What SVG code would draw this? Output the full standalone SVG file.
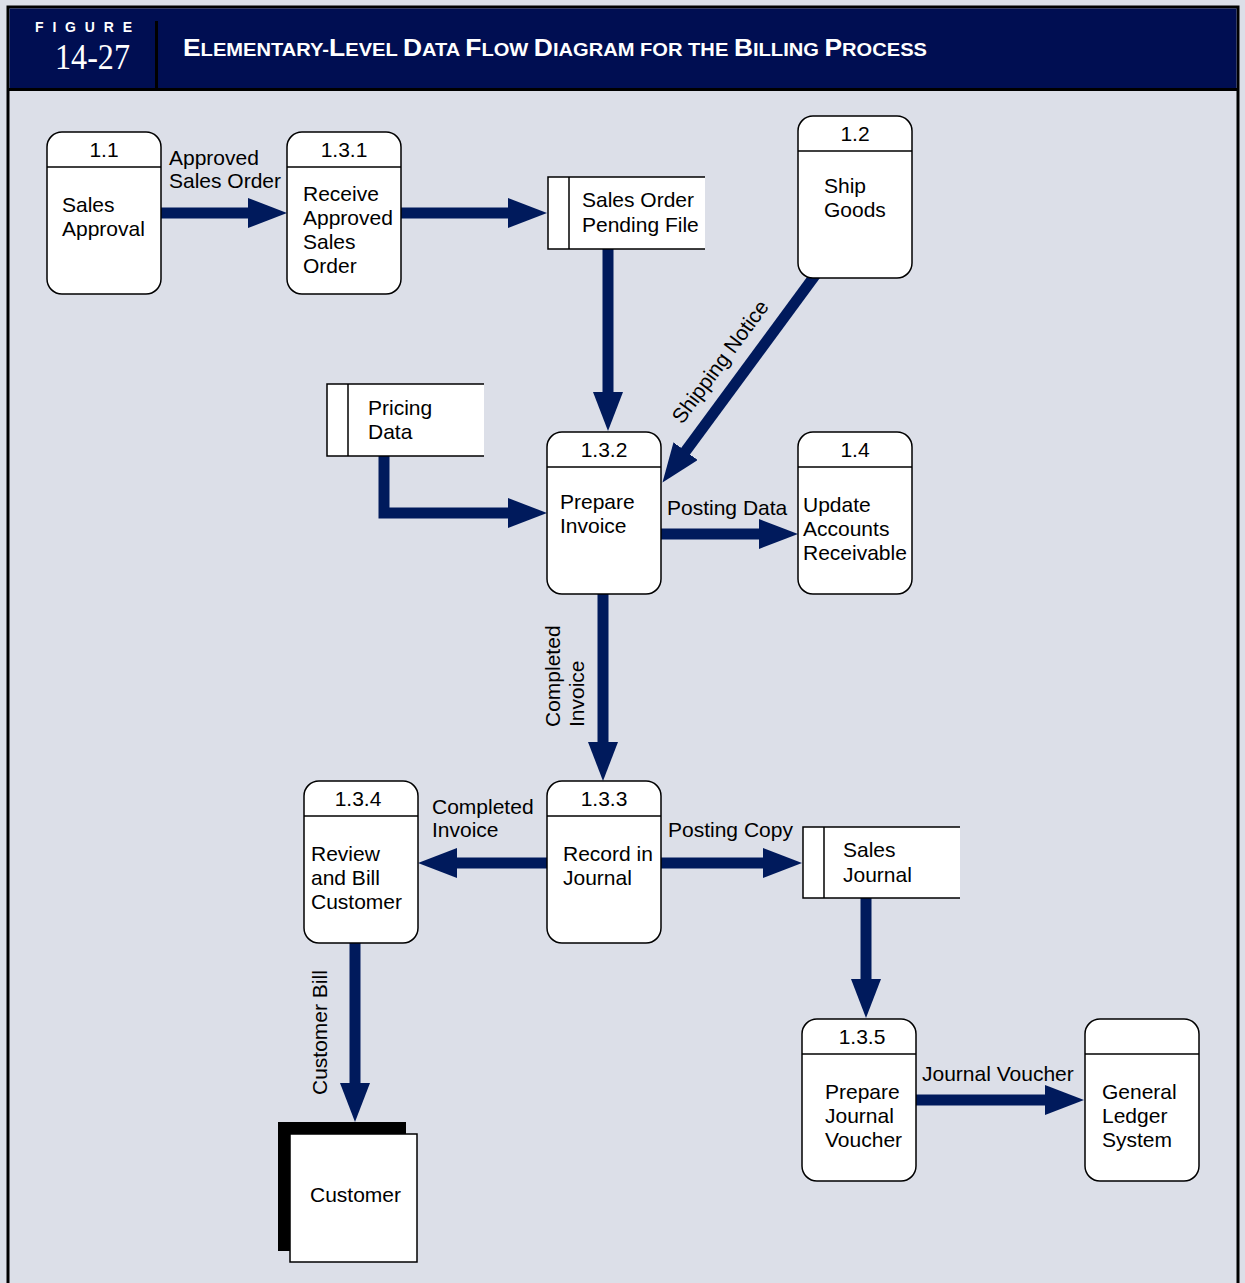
<svg xmlns="http://www.w3.org/2000/svg" width="1245" height="1283" viewBox="0 0 1245 1283">
<defs>
<style>
.bg{fill:#dcdfe8}
.node{fill:#fff;stroke:#000;stroke-width:1.5}
.sep{stroke:#000;stroke-width:1.5;fill:none}
.t{font-family:"Liberation Sans",Arial,Helvetica,sans-serif;font-size:21px;fill:#000}
.c{text-anchor:middle}
.flow{fill:none;stroke:#001a5c;stroke-width:11;stroke-linejoin:miter;stroke-linecap:butt}
.hdr{font-family:"Liberation Sans",Arial,sans-serif;font-weight:bold;fill:#fff}
</style>
<marker id="ah" markerUnits="userSpaceOnUse" markerWidth="40" markerHeight="30" viewBox="0 0 40 30" refX="1" refY="15" orient="auto">
<path d="M0,0 L39,15 L0,30 z" fill="#001a5c"/>
</marker>
</defs>
<rect class="bg" x="0" y="0" width="1245" height="1283"/>
<g id="frame">
<rect x="8" y="7" width="1230" height="1290" fill="#dcdfe8" stroke="#000" stroke-width="3"/>
<rect x="9.5" y="8.5" width="1227" height="81" fill="#000e52"/>
<line x1="8" y1="89.5" x2="1238" y2="89.5" stroke="#000" stroke-width="3"/>
<line x1="156.5" y1="21" x2="156.5" y2="89" stroke="#000" stroke-width="3"/>
<text class="hdr" x="35" y="32" font-size="14" textLength="97" lengthAdjust="spacing">FIGURE</text>
<text x="55" y="69" font-family="'Liberation Serif','Times New Roman',serif" font-size="36" fill="#fff" textLength="75" lengthAdjust="spacingAndGlyphs">14-27</text>
<text class="hdr" x="183" y="56" textLength="744" lengthAdjust="spacingAndGlyphs"><tspan font-size="23">E</tspan><tspan font-size="17.5">LEMENTARY-</tspan><tspan font-size="23">L</tspan><tspan font-size="17.5">EVEL </tspan><tspan font-size="23">D</tspan><tspan font-size="17.5">ATA </tspan><tspan font-size="23">F</tspan><tspan font-size="17.5">LOW </tspan><tspan font-size="23">D</tspan><tspan font-size="17.5">IAGRAM FOR THE </tspan><tspan font-size="23">B</tspan><tspan font-size="17.5">ILLING </tspan><tspan font-size="23">P</tspan><tspan font-size="17.5">ROCESS</tspan></text>
</g>
<g id="connectors">
<path class="flow" d="M161,213 H249" marker-end="url(#ah)"/>
<path class="flow" d="M401,213 H509" marker-end="url(#ah)"/>
<path class="flow" d="M608,249 V393" marker-end="url(#ah)"/>
<path class="flow" d="M819,270 L685,452" marker-end="url(#ah)"/>
<path class="flow" d="M384,455 V513 H509" marker-end="url(#ah)"/>
<path class="flow" d="M661,534 H760" marker-end="url(#ah)"/>
<path class="flow" d="M603,594 V743" marker-end="url(#ah)"/>
<path class="flow" d="M547,863 H456" marker-end="url(#ah)"/>
<path class="flow" d="M661,863 H764" marker-end="url(#ah)"/>
<path class="flow" d="M866,898 V980" marker-end="url(#ah)"/>
<path class="flow" d="M355,943 V1084" marker-end="url(#ah)"/>
<path class="flow" d="M916,1100 H1046" marker-end="url(#ah)"/>
<text class="t" x="169" y="165">Approved</text>
<text class="t" x="169" y="188">Sales Order</text>
<text class="t c" transform="translate(726,366) rotate(-53.5)">Shipping Notice</text>
<text class="t" x="667" y="515">Posting Data</text>
<text class="t" transform="translate(560,727) rotate(-90)">Completed</text>
<text class="t" transform="translate(584,727) rotate(-90)">Invoice</text>
<text class="t" x="432" y="814">Completed</text>
<text class="t" x="432" y="837">Invoice</text>
<text class="t" x="668" y="837">Posting Copy</text>
<text class="t" transform="translate(327,1095) rotate(-90)">Customer Bill</text>
<text class="t" x="922" y="1081">Journal Voucher</text>
</g>
<g id="n1-1">
<rect class="node" x="47" y="132" width="114" height="162" rx="15"/>
<line class="sep" x1="47" y1="167" x2="161" y2="167"/>
<text class="t c" x="104" y="157">1.1</text>
<text class="t" x="62" y="212">Sales</text>
<text class="t" x="62" y="236">Approval</text>
</g>
<g id="n1-3-1">
<rect class="node" x="287" y="132" width="114" height="162" rx="15"/>
<line class="sep" x1="287" y1="167" x2="401" y2="167"/>
<text class="t c" x="344" y="157">1.3.1</text>
<text class="t" x="303" y="201">Receive</text>
<text class="t" x="303" y="225">Approved</text>
<text class="t" x="303" y="249">Sales</text>
<text class="t" x="303" y="273">Order</text>
</g>
<g id="ds-pending">
<path class="node" d="M705,177 H548 V249 H705"/>
<line class="sep" x1="569" y1="177" x2="569" y2="249"/>
<text class="t" x="582" y="207">Sales Order</text>
<text class="t" x="582" y="232">Pending File</text>
</g>
<g id="n1-2">
<rect class="node" x="798" y="116" width="114" height="162" rx="15"/>
<line class="sep" x1="798" y1="151" x2="912" y2="151"/>
<text class="t c" x="855" y="141">1.2</text>
<text class="t" x="824" y="193">Ship</text>
<text class="t" x="824" y="217">Goods</text>
</g>
<g id="ds-pricing">
<path class="node" d="M484,384 H327 V456 H484"/>
<line class="sep" x1="348" y1="384" x2="348" y2="456"/>
<text class="t" x="368" y="415">Pricing</text>
<text class="t" x="368" y="439">Data</text>
</g>
<g id="n1-3-2">
<rect class="node" x="547" y="432" width="114" height="162" rx="15"/>
<line class="sep" x1="547" y1="467" x2="661" y2="467"/>
<text class="t c" x="604" y="457">1.3.2</text>
<text class="t" x="560" y="509">Prepare</text>
<text class="t" x="560" y="533">Invoice</text>
</g>
<g id="n1-4">
<rect class="node" x="798" y="432" width="114" height="162" rx="15"/>
<line class="sep" x1="798" y1="467" x2="912" y2="467"/>
<text class="t c" x="855" y="457">1.4</text>
<text class="t" x="803" y="512">Update</text>
<text class="t" x="803" y="536">Accounts</text>
<text class="t" x="803" y="560">Receivable</text>
</g>
<g id="n1-3-4">
<rect class="node" x="304" y="781" width="114" height="162" rx="15"/>
<line class="sep" x1="304" y1="816" x2="418" y2="816"/>
<text class="t c" x="358" y="806">1.3.4</text>
<text class="t" x="311" y="861">Review</text>
<text class="t" x="311" y="885">and Bill</text>
<text class="t" x="311" y="909">Customer</text>
</g>
<g id="n1-3-3">
<rect class="node" x="547" y="781" width="114" height="162" rx="15"/>
<line class="sep" x1="547" y1="816" x2="661" y2="816"/>
<text class="t c" x="604" y="806">1.3.3</text>
<text class="t" x="563" y="861">Record in</text>
<text class="t" x="563" y="885">Journal</text>
</g>
<g id="ds-journal">
<path class="node" d="M960,827 H803 V898 H960"/>
<line class="sep" x1="824" y1="827" x2="824" y2="898"/>
<text class="t" x="843" y="857">Sales</text>
<text class="t" x="843" y="882">Journal</text>
</g>
<g id="n1-3-5">
<rect class="node" x="802" y="1019" width="114" height="162" rx="15"/>
<line class="sep" x1="802" y1="1054" x2="916" y2="1054"/>
<text class="t c" x="862" y="1044">1.3.5</text>
<text class="t" x="825" y="1099">Prepare</text>
<text class="t" x="825" y="1123">Journal</text>
<text class="t" x="825" y="1147">Voucher</text>
</g>
<g id="n-gl">
<rect class="node" x="1085" y="1019" width="114" height="162" rx="15"/>
<line class="sep" x1="1085" y1="1054" x2="1199" y2="1054"/>
<text class="t" x="1102" y="1099">General</text>
<text class="t" x="1102" y="1123">Ledger</text>
<text class="t" x="1102" y="1147">System</text>
</g>
<g id="ext-customer">
<rect x="278" y="1122" width="128" height="129" fill="#000"/>
<rect class="node" x="290" y="1134" width="127" height="128"/>
<text class="t c" x="355.5" y="1202">Customer</text>
</g>
</svg>
